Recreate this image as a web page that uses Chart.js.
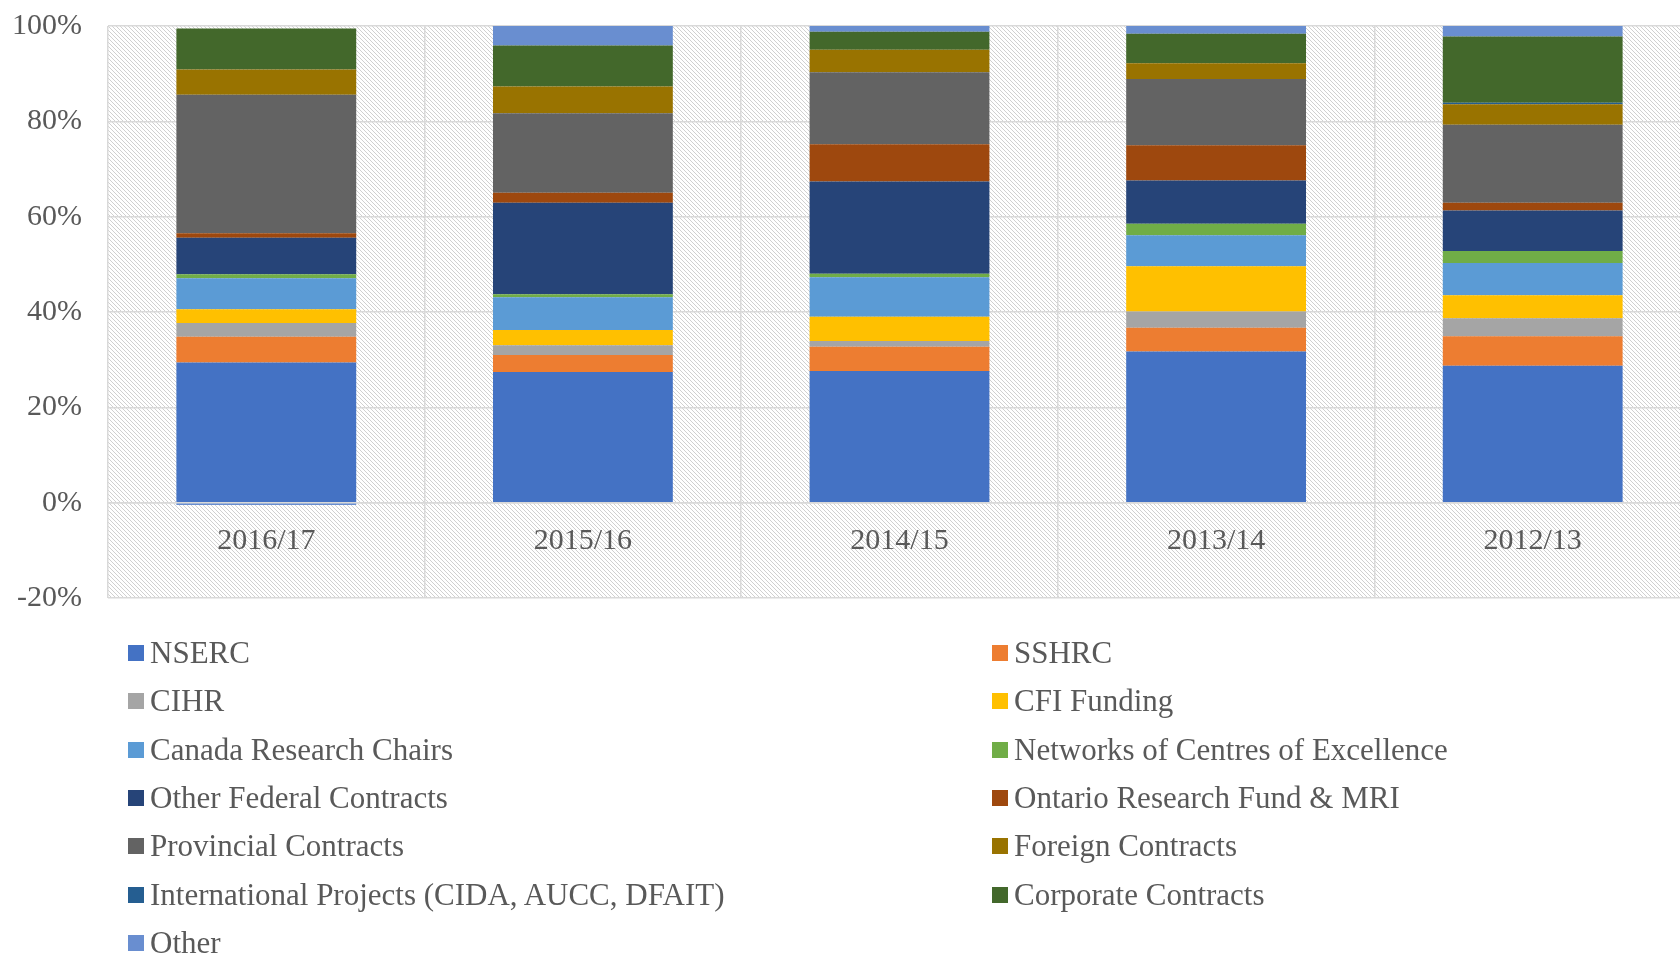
<!DOCTYPE html>
<html>
<head>
<meta charset="utf-8">
<script src="https://cdn.jsdelivr.net/npm/chart.js@4.4.1/dist/chart.umd.min.js"></script>
<style>
  body { margin: 0; background: #fff; overflow: hidden; width: 1680px; height: 957px; }
  #wrap { position: absolute; left: 0; top: -18px; width: 1691px; height: 660px; }
  #legend { position: absolute; left: 128px; top: 629px; width: 1552px;
    display: grid; grid-template-columns: 864px 688px; grid-auto-rows: 48.3px;
    font-family: "Liberation Serif", serif; font-size: 31px; color: #595959; }
  .item { display: flex; align-items: center; white-space: nowrap; }
  .sw { width: 16px; height: 16px; margin-right: 6px; flex: none; }
</style>
</head>
<body>
<div id="wrap"><canvas id="grafico"></canvas></div>
<div id="legend"></div>
<script>
// anos (eixo x) e valores em %
const anos = ['2016/17', '2015/16', '2014/15', '2013/14', '2012/13'];
const yTicks = [-20, 0, 20, 40, 60, 80, 100];

const nserc    = [29.4, 27.4, 27.6, 31.7, 28.7];
const sshrc    = [5.4, 3.6, 5.1, 5.0, 6.2];
const cihr     = [2.9, 2.0, 1.2, 3.4, 3.8];
const cfi      = [2.9, 3.2, 5.1, 9.5, 4.8];
const crc      = [6.5, 6.9, 8.3, 6.5, 6.8];
const nce      = [0.8, 0.6, 0.7, 2.4, 2.5];
const federal  = [7.7, 19.2, 19.4, 9.1, 8.5];
const ontario  = [0.9, 2.1, 7.8, 7.4, 1.6];
const provin   = [29.1, 16.7, 15.1, 13.9, 16.4];
const foreign  = [5.3, 5.6, 4.7, 3.3, 4.3];
const intl     = [0, 0, 0, 0, 0.3];
const corp     = [8.6, 8.6, 3.8, 6.2, 13.9];
const outros   = [-0.5, 4.1, 1.2, 1.6, 2.2];

const series = [
  ['NSERC', nserc, '#4472C4'],
  ['SSHRC', sshrc, '#ED7D31'],
  ['CIHR', cihr, '#A5A5A5'],
  ['CFI Funding', cfi, '#FFC000'],
  ['Canada Research Chairs', crc, '#5B9BD5'],
  ['Networks of Centres of Excellence', nce, '#70AD47'],
  ['Other Federal Contracts', federal, '#264478'],
  ['Ontario Research Fund & MRI', ontario, '#9E480E'],
  ['Provincial Contracts', provin, '#636363'],
  ['Foreign Contracts', foreign, '#997300'],
  ['International Projects (CIDA, AUCC, DFAIT)', intl, '#255E91'],
  ['Corporate Contracts', corp, '#43682B'],
  ['Other', outros, '#698ED0']
];

// fundo hachurado da área do gráfico
const tile = document.createElement('canvas');
tile.width = 4; tile.height = 4;
const tctx = tile.getContext('2d');
tctx.fillStyle = '#d0d0d0';
for (let i = 0; i < 4; i++) tctx.fillRect(i, i, 1, 1);

const fundoHachurado = {
  id: 'fundoHachurado',
  beforeDraw(chart) {
    const { ctx, chartArea: a } = chart;
    ctx.save();
    ctx.fillStyle = ctx.createPattern(tile, 'repeat');
    ctx.fillRect(a.left, a.top, a.right - a.left, a.bottom - a.top);
    ctx.restore();
  }
};

const fonte = { family: '"Liberation Serif", serif', size: 30 };

const myChart = new Chart(document.getElementById('grafico'), {
  type: 'bar',
  data: {
    labels: anos,
    datasets: series.map(([label, data, cor]) => ({
      label, data, backgroundColor: cor, borderWidth: 0,
      barPercentage: 0.568, categoryPercentage: 1
    }))
  },
  options: {
    responsive: true,
    maintainAspectRatio: false,
    animation: false,
    layout: { padding: { top: 7, bottom: 12, left: 0, right: 0 } },
    plugins: { legend: { display: false }, tooltip: { enabled: false } },
    scales: {
      x: {
        stacked: true,
        position: { y: 0 },
        grid: { color: '#d9d9d9', lineWidth: 1.5, drawTicks: false, offset: true },
        border: { color: '#d9d9d9', width: 1.5 },
        ticks: { font: fonte, color: '#595959', padding: 20 }
      },
      y: {
        stacked: true,
        min: -20, max: 100,
        afterFit: s => { s.width = 108; },
        afterBuildTicks: s => { s.ticks = yTicks.map(v => ({ value: v })); },
        grid: { color: '#d9d9d9', lineWidth: 1.5, drawTicks: false },
        border: { display: false },
        ticks: { font: fonte, color: '#595959', padding: 26, callback: v => v + '%' }
      }
    }
  },
  plugins: [fundoHachurado]
});

// legenda em duas colunas
const legenda = document.getElementById('legend');
myChart.data.datasets.forEach(ds => {
  const item = document.createElement('div');
  item.className = 'item';
  item.innerHTML = `<span class="sw" style="background:${ds.backgroundColor}"></span><span>${ds.label.replace('&', '&amp;')}</span>`;
  legenda.appendChild(item);
});
</script>
</body>
</html>
